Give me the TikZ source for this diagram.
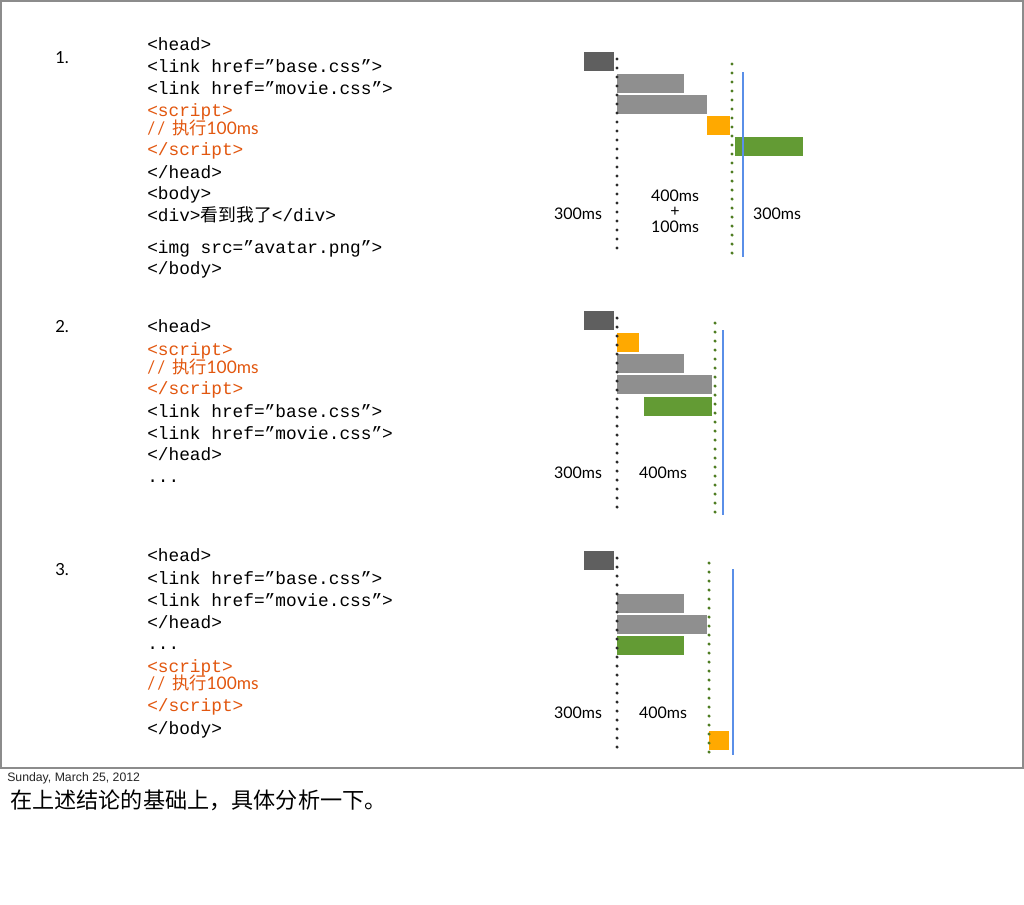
\documentclass[tikz,border=0pt]{standalone}
\usepackage{fontspec}
\setmainfont{Lato}
\newfontfamily\cjk{Noto Sans CJK SC}
\newfontfamily\monof{Liberation Mono}
\newfontfamily\labf{Lato}
\newfontfamily\helv{Liberation Sans}
\definecolor{framec}{HTML}{8C8C8C}
\definecolor{darkbox}{HTML}{5F5F5F}
\definecolor{graybar}{HTML}{8F8F8F}
\definecolor{orangebox}{HTML}{FFA900}
\definecolor{greenbar}{HTML}{639B34}
\definecolor{bluel}{HTML}{5A8FE8}
\definecolor{greendot}{HTML}{4E7D22}
\definecolor{blackdot}{HTML}{2B2B2B}
\definecolor{codeor}{HTML}{E2570F}
\newcommand{\cmttext}{/\kern1.8pt/\kern5pt{\cjk 执行}100ms}
\tikzset{
  code/.style={anchor=base west, inner sep=0pt, font=\monof\fontsize{13.35}{16}\selectfont},
  codered/.style={code, text=codeor},
  cmt/.style={anchor=base west, inner sep=0pt, text=codeor, font=\labf\fontsize{13}{16}\selectfont},
  num/.style={anchor=base west, inner sep=0pt, font=\labf\fontsize{12.5}{15}\selectfont},
  lab/.style={anchor=base, inner sep=0pt, text height=0.72em, text depth=0pt, font=\labf\fontsize{12}{15}\selectfont},
  bdots/.style={draw=blackdot, line width=2.6pt, line cap=round, dash pattern=on 0pt off 6.75pt},
  gdots/.style={draw=greendot, line width=2.6pt, line cap=round, dash pattern=on 0pt off 6.75pt},
  bline/.style={draw=bluel, line width=1.3pt},
}
\begin{document}
\begin{tikzpicture}[x=0.75pt,y=-0.75pt]
\useasboundingbox (0,0) rectangle (1024,904);
\fill[white] (0,0) rectangle (1024,904);
\draw[framec, line width=1.5pt] (0.75,0.75) rectangle (1022.5,767.5);

% ---------- section 1 code ----------
\node[num] (n1) at (55,63) {1.};
\node[code] (a1) at (147,50) {<head>};
\node[code] (a2) at (147,72) {<link href=”base.css”>};
\node[code] (a3) at (147,94) {<link href=”movie.css”>};
\node[codered] (a4) at (147,116) {<script>};
\node[cmt] (a5) at (147,134) {\cmttext};
\node[codered] (a6) at (147,155) {</script>};
\node[code] (a7) at (147,178) {</head>};
\node[code] (a8) at (147,199) {<body>};
\node[code] (a9) at (147,221) {<div>{\cjk 看到我了}</div>};
\node[code] (a10) at (147,253) {<img src=”avatar.png”>};
\node[code] (a11) at (147,274) {</body>};

% ---------- section 2 code ----------
\node[num] (n2) at (55,332) {2.};
\node[code] (b1) at (147,332) {<head>};
\node[codered] (b2) at (147,355) {<script>};
\node[cmt] (b3) at (147,373) {\cmttext};
\node[codered] (b4) at (147,394) {</script>};
\node[code] (b5) at (147,417) {<link href=”base.css”>};
\node[code] (b6) at (147,439) {<link href=”movie.css”>};
\node[code] (b7) at (147,460) {</head>};
\node[code] (b8) at (147,482) {...};

% ---------- section 3 code ----------
\node[num] (n3) at (55,575) {3.};
\node[code] (c1) at (147,561) {<head>};
\node[code] (c2) at (147,584) {<link href=”base.css”>};
\node[code] (c3) at (147,606) {<link href=”movie.css”>};
\node[code] (c4) at (147,628) {</head>};
\node[code] (c5) at (147,649) {...};
\node[codered] (c6) at (147,672) {<script>};
\node[cmt] (c7) at (147,689) {\cmttext};
\node[codered] (c8) at (147,711) {</script>};
\node[code] (c9) at (147,734) {</body>};

% ---------- chart 1 ----------
\fill[darkbox] (584,52) rectangle (614,71);
\fill[graybar] (617,74) rectangle (684,93);
\fill[graybar] (617,95) rectangle (707,114);
\fill[orangebox] (707,116) rectangle (730,135);
\fill[greenbar] (735,137) rectangle (803,156);
\draw[bdots] (617,59) -- (617,250);
\draw[gdots] (732,64) -- (732,255);
\draw[bline] (743,72) -- (743,257);
\node[lab] (l1a) at (578,219) {300ms};
\node[lab] (l1b) at (675,201) {400ms};
\node[lab, text height=0.55em] (l1c) at (675,216) {+};
\node[lab] (l1d) at (675,232) {100ms};
\node[lab] (l1e) at (777,219) {300ms};

% ---------- chart 2 ----------
\fill[darkbox] (584,311) rectangle (614,330);
\fill[orangebox] (617,333) rectangle (639,352);
\fill[graybar] (617,354) rectangle (684,373);
\fill[graybar] (617,375) rectangle (712,394);
\fill[greenbar] (644,397) rectangle (712,416);
\draw[bdots] (617,318) -- (617,509);
\draw[gdots] (715,323) -- (715,514);
\draw[bline] (723,330) -- (723,515);
\node[lab] (l2a) at (578,478) {300ms};
\node[lab] (l2b) at (663,478) {400ms};

% ---------- chart 3 ----------
\fill[darkbox] (584,551) rectangle (614,570);
\fill[graybar] (617,594) rectangle (684,613);
\fill[graybar] (617,615) rectangle (707,634);
\fill[greenbar] (617,636) rectangle (684,655);
\fill[orangebox] (709,731) rectangle (729,750);
\draw[bdots] (617,558) -- (617,749);
\draw[gdots] (709,563) -- (709,754);
\draw[bline] (733,569) -- (733,755);
\node[lab] (l3a) at (578,718) {300ms};
\node[lab] (l3b) at (663,718) {400ms};

% ---------- footer ----------
\node[anchor=base west, inner sep=0pt, font=\helv\fontsize{9.2}{11}\selectfont, text=black!85] (date) at (7,781) {Sunday, March 25, 2012};
\node[anchor=base west, inner sep=0pt, font=\cjk\fontsize{16.6}{20}\selectfont] (note) at (10,808) {在上述结论的基础上，具体分析一下。};
\end{tikzpicture}
\end{document}
